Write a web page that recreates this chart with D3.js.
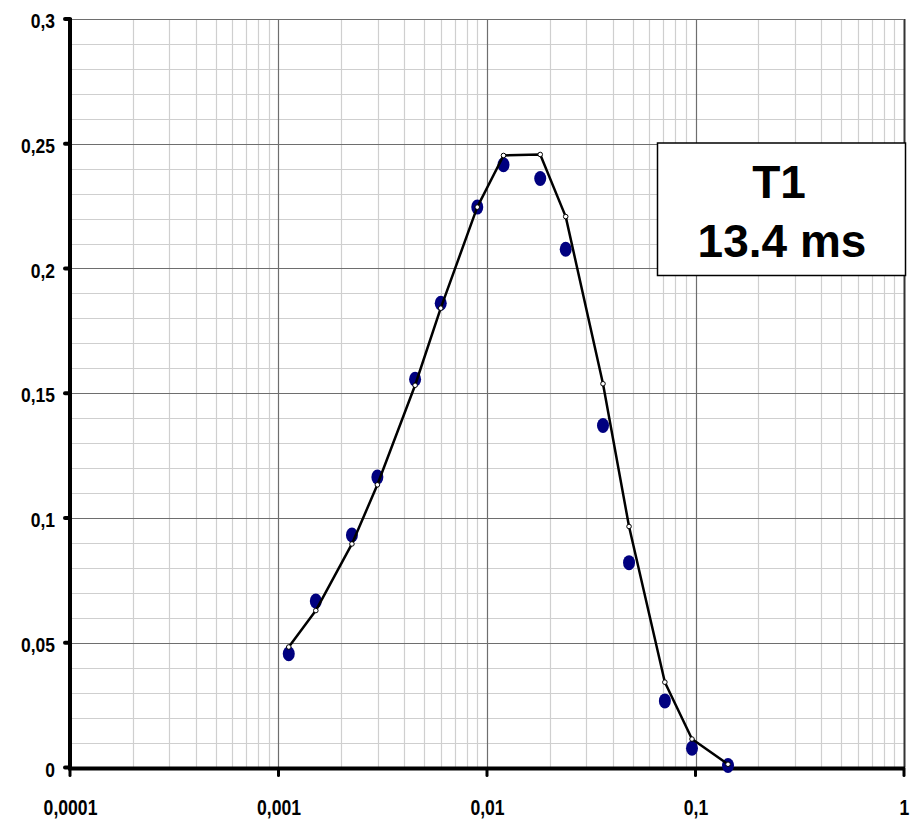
<!DOCTYPE html>
<html>
<head>
<meta charset="utf-8">
<script src="https://cdn.jsdelivr.net/npm/d3@7"></script>
<style>
  html, body { margin: 0; padding: 0; background: #fff; }
  svg { display: block; }
  text { font-family: "Liberation Sans", Arial, sans-serif; font-weight: bold; fill: #000; }
</style>
</head>
<body>
<svg id="chart" width="914" height="819"></svg>
<script>
// ---- data ----
const xValues = [0.00112, 0.00151, 0.00225, 0.00298, 0.00452, 0.0060, 0.00898, 0.0120, 0.0180, 0.02385, 0.0360, 0.0480, 0.0713, 0.0962, 0.1432];
const measured = [0.0456, 0.0667, 0.0932, 0.1164, 0.1556, 0.1861, 0.2246, 0.2416, 0.2361, 0.2077, 0.1371, 0.0821, 0.0267, 0.0077, 0.0008];
const fitted   = [0.0483, 0.0629, 0.0896, 0.1133, 0.1532, 0.1841, 0.2246, 0.2453, 0.2457, 0.2208, 0.1538, 0.0966, 0.0342, 0.0114, 0.0013];
const xTickValues = [0.0001, 0.001, 0.01, 0.1, 1];
const xTickLabels = ["0,0001", "0,001", "0,01", "0,1", "1"];
const yTickValues = [0, 0.05, 0.1, 0.15, 0.2, 0.25, 0.3];
const yTickLabels = ["0", "0,05", "0,1", "0,15", "0,2", "0,25", "0,3"];
const annotation = ["T1", "13.4 ms"];

// ---- layout ----
const svg = d3.select("#chart");
const pLeft = 70, pRight = 904, pTop = 19, pBottom = 767.5;
const x = d3.scaleLog().domain([0.0001, 1]).range([pLeft, pRight]);
const y = d3.scaleLinear().domain([0, 0.3]).range([pBottom, pTop]);

const g = svg.append("g");

// minor grid
const minorX = x.ticks().filter(v => !xTickValues.some(t => Math.abs(t - v) / t < 1e-9));
g.selectAll("line.mx").data(minorX).enter().append("line")
  .attr("x1", d => Math.round(x(d)) + 0.5).attr("x2", d => Math.round(x(d)) + 0.5)
  .attr("y1", pTop).attr("y2", pBottom)
  .attr("stroke", "#cfcfcf").attr("stroke-width", 1.2);
const minorY = d3.range(0, 31).map(i => i / 100).filter(v => Math.round(v * 100) % 5 !== 0);
g.selectAll("line.my").data(minorY).enter().append("line")
  .attr("x1", pLeft).attr("x2", pRight)
  .attr("y1", d => Math.round(y(d)) + 0.5).attr("y2", d => Math.round(y(d)) + 0.5)
  .attr("stroke", "#cfcfcf").attr("stroke-width", 1.2);

// major grid
g.selectAll("line.MX").data(xTickValues.slice(1)).enter().append("line")
  .attr("x1", d => Math.round(x(d)) + 0.5).attr("x2", d => Math.round(x(d)) + 0.5)
  .attr("y1", pTop).attr("y2", pBottom)
  .attr("stroke", d => d === 1 ? "#333" : "#6e6e6e").attr("stroke-width", d => d === 1 ? 2 : 1.2);
g.selectAll("line.MY").data(yTickValues.slice(1)).enter().append("line")
  .attr("x1", pLeft).attr("x2", pRight)
  .attr("y1", d => Math.round(y(d)) + 0.5).attr("y2", d => Math.round(y(d)) + 0.5)
  .attr("stroke", "#6e6e6e").attr("stroke-width", 1.2);

// axes lines
g.append("line").attr("x1", pLeft).attr("x2", pLeft).attr("y1", pTop - 1).attr("y2", pBottom + 2)
  .attr("stroke", "#000").attr("stroke-width", 4);
g.append("line").attr("x1", pLeft - 2).attr("x2", pRight + 1).attr("y1", pBottom + 1).attr("y2", pBottom + 1)
  .attr("stroke", "#000").attr("stroke-width", 4);

// y ticks
g.selectAll("line.yt").data(yTickValues).enter().append("line")
  .attr("x1", pLeft - 5).attr("x2", pLeft).attr("y1", d => y(d)).attr("y2", d => y(d))
  .attr("stroke", "#000").attr("stroke-width", 4).attr("stroke-linecap", "round");
// x ticks
g.selectAll("line.xt").data(xTickValues).enter().append("line")
  .attr("x1", d => x(d)).attr("x2", d => x(d)).attr("y1", pBottom + 1).attr("y2", pBottom + 8)
  .attr("stroke", "#000").attr("stroke-width", 3).attr("stroke-linecap", "round");

// y labels
g.selectAll("text.yl").data(yTickValues).enter().append("text")
  .attr("text-anchor", "end")
  .attr("transform", d => `translate(55,${y(d) + 9}) scale(1,1.15)`)
  .style("font-size", "17.5px")
  .text((d, i) => yTickLabels[i]);
// x labels
g.selectAll("text.xl").data(xTickValues).enter().append("text")
  .attr("text-anchor", "middle")
  .attr("transform", d => `translate(${x(d) + 0.5},815) scale(1,1.3)`)
  .style("font-size", "17.6px")
  .text((d, i) => xTickLabels[i]);

// measured points
g.selectAll("ellipse.m").data(xValues).enter().append("ellipse")
  .attr("cx", d => x(d)).attr("cy", (d, i) => y(measured[i]))
  .attr("rx", 6).attr("ry", 7.5)
  .attr("fill", "#00007f");

// fitted line
const line = d3.line().x(d => x(d[0])).y(d => y(d[1]));
g.append("path").datum(xValues.map((v, i) => [v, fitted[i]]))
  .attr("d", line).attr("fill", "none").attr("stroke", "#000").attr("stroke-width", 2.5)
  .attr("stroke-linejoin", "round");
g.selectAll("circle.f").data(xValues).enter().append("circle")
  .attr("cx", d => x(d)).attr("cy", (d, i) => y(fitted[i]))
  .attr("r", 2.3).attr("fill", "#fff").attr("stroke", "#000").attr("stroke-width", 1);

// annotation box
g.append("rect").attr("x", 657.5).attr("y", 143).attr("width", 248).attr("height", 132.5)
  .attr("fill", "#fff").attr("stroke", "#000").attr("stroke-width", 1.5);
g.append("text").attr("x", 779).attr("y", 197.5).attr("text-anchor", "middle")
  .style("font-size", "46px").text(annotation[0]);
g.append("text").attr("x", 782).attr("y", 256.5).attr("text-anchor", "middle")
  .style("font-size", "46px").text(annotation[1]);
</script>
</body>
</html>
